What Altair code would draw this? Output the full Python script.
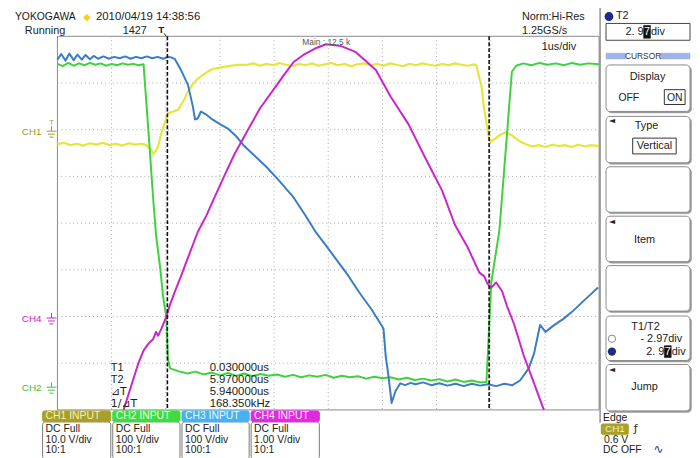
import altair as alt
import pandas as pd

# ---------------- data (time in us, level in screen divisions) ----------------
CURSOR_T = [0.03, 5.97]
GRID_T = [-1, 0, 1, 2, 3, 4, 5, 6, 7]
GRID_D = [-3, -2, -1, 0, 1, 2, 3]

YELLOW_T = [-2.00, -1.88, -1.76, -1.64, -1.52, -1.40, -1.28, -1.16, -1.04, -0.92, -0.80, -0.68, -0.56,
            -0.44, -0.36, -0.28, -0.23, -0.18, -0.14, -0.08, -0.01, 0.04, 0.14, 0.23, 0.32, 0.41, 0.50,
            0.59, 0.72, 0.86, 1.05, 1.32, 1.50, 1.62, 1.74, 1.86, 1.98, 2.10, 2.22, 2.34, 2.46, 2.58,
            2.70, 2.82, 2.94, 3.06, 3.18, 3.30, 3.42, 3.54, 3.66, 3.78, 3.90, 4.02, 4.14, 4.26, 4.38,
            4.50, 4.62, 4.74, 4.86, 4.98, 5.10, 5.22, 5.34, 5.46, 5.58, 5.70, 5.74, 5.77, 5.83, 5.86,
            5.90, 5.96, 5.99, 6.07, 6.16, 6.28, 6.39, 6.52, 6.65, 6.77, 6.89, 7.01, 7.13, 7.25, 7.37,
            7.49, 7.61, 7.73, 7.85, 8.00]
YELLOW_D = [1.69, 1.72, 1.67, 1.70, 1.66, 1.71, 1.68, 1.72, 1.67, 1.70, 1.66, 1.71, 1.68,
            1.70, 1.67, 1.59, 1.48, 1.55, 1.65, 1.93, 2.18, 2.35, 2.39, 2.43, 2.60, 2.81, 2.98,
            3.09, 3.20, 3.30, 3.34, 3.39, 3.39, 3.42, 3.37, 3.41, 3.38, 3.43, 3.39, 3.36, 3.41, 3.38,
            3.42, 3.37, 3.40, 3.43, 3.38, 3.41, 3.36, 3.40, 3.42, 3.38, 3.41, 3.37, 3.42, 3.39, 3.36,
            3.41, 3.38, 3.42, 3.39, 3.37, 3.41, 3.38, 3.42, 3.39, 3.37, 3.40, 3.37, 3.20, 2.92, 2.60,
            2.29, 1.86, 1.74, 1.80, 1.88, 1.95, 1.88, 1.76, 1.69, 1.64, 1.67, 1.63, 1.68, 1.65, 1.67,
            1.63, 1.68, 1.64, 1.67, 1.65]

GREEN_T = [-2.00, -1.90, -1.80, -1.70, -1.60, -1.50, -1.40, -1.30, -1.20, -1.10, -1.00, -0.90, -0.80,
           -0.70, -0.60, -0.50, -0.41, -0.32, -0.23, -0.18, -0.10, -0.05, 0.01, 0.04, 0.08, 0.23, 0.40,
           0.55, 0.70, 0.85, 1.00, 1.15, 1.30, 1.45, 1.60, 1.75, 1.90, 2.05, 2.20, 2.35, 2.50, 2.65,
           2.80, 2.95, 3.10, 3.25, 3.40, 3.55, 3.70, 3.85, 4.00, 4.15, 4.30, 4.45, 4.60, 4.75, 4.90,
           5.05, 5.20, 5.35, 5.50, 5.65, 5.80, 5.92, 6.01, 6.16, 6.39, 6.47, 6.60, 6.75, 6.90, 7.05,
           7.20, 7.35, 7.50, 7.65, 7.80, 8.00]
GREEN_D = [3.41, 3.36, 3.43, 3.37, 3.42, 3.38, 3.43, 3.39, 3.42, 3.37, 3.41, 3.38, 3.42,
           3.39, 3.41, 3.38, 3.40, 1.97, 0.49, -0.25, -0.99, -1.57, -2.01, -2.90, -3.11, -3.17, -3.22,
           -3.18, -3.24, -3.20, -3.26, -3.21, -3.27, -3.22, -3.28, -3.23, -3.27, -3.24, -3.29, -3.25,
           -3.30, -3.26, -3.29, -3.25, -3.31, -3.27, -3.30, -3.28, -3.33, -3.29, -3.32, -3.30, -3.35,
           -3.31, -3.36, -3.33, -3.37, -3.34, -3.39, -3.35, -3.40, -3.37, -3.41, -3.40, -1.27, -0.15,
           3.24, 3.37, 3.42, 3.38, 3.43, 3.39, 3.42, 3.38, 3.43, 3.39, 3.42, 3.40]

BLUE_T = [-2.00, -1.93, -1.85, -1.78, -1.70, -1.63, -1.55, -1.48, -1.40, -1.33, -1.25, -1.15, -1.05,
          -0.95, -0.85, -0.75, -0.65, -0.55, -0.45, -0.35, -0.25, -0.15, -0.05, 0.05, 0.12, 0.17,
          0.28, 0.41, 0.50, 0.54, 0.59, 0.65, 0.74, 0.86, 1.00, 1.14, 1.30, 1.45, 1.66, 1.87, 2.10,
          2.36, 2.57, 2.78, 2.97, 3.15, 3.36, 3.57, 3.80, 4.00, 4.02, 4.06, 4.11, 4.17, 4.24, 4.33,
          4.42, 4.52, 4.61, 4.75, 4.90, 5.05, 5.20, 5.35, 5.50, 5.65, 5.80, 5.95, 6.10, 6.25, 6.40,
          6.54, 6.70, 6.80, 6.91, 7.01, 7.15, 7.34, 7.50, 7.71, 7.85, 7.98]
BLUE_D = [3.50, 3.62, 3.48, 3.63, 3.49, 3.61, 3.50, 3.60, 3.51, 3.58, 3.52, 3.57, 3.52,
          3.56, 3.53, 3.57, 3.52, 3.56, 3.53, 3.57, 3.53, 3.56, 3.52, 3.56, 3.54, 3.51,
          3.28, 2.96, 2.50, 2.22, 2.24, 2.39, 2.33, 2.22, 2.12, 2.03, 1.86, 1.65, 1.42, 1.19, 0.90,
          0.55, 0.18, -0.21, -0.50, -0.78, -1.11, -1.48, -1.85, -2.22, -2.26, -2.84, -3.26, -3.85,
          -3.60, -3.43, -3.47, -3.42, -3.45, -3.41, -3.47, -3.43, -3.48, -3.44, -3.49, -3.44, -3.48,
          -3.45, -3.49, -3.44, -3.47, -3.37, -3.11, -2.79, -2.18, -2.33, -2.20, -2.05, -1.90, -1.67,
          -1.52, -1.38]

MAGENTA_T = [-0.78, -0.65, -0.50, -0.41, -0.32, -0.23, -0.18, -0.14, -0.08, 0.01, 0.08, 0.17, 0.28,
             0.41, 0.59, 0.75, 0.90, 1.10, 1.27, 1.50, 1.74, 1.96, 2.18, 2.36, 2.54, 2.78, 2.96, 3.24,
             3.51, 3.75, 3.88, 4.15, 4.48, 4.79, 5.10, 5.34, 5.57, 5.79, 5.88, 5.94, 6.01, 6.10, 6.21,
             6.30, 6.43, 6.61, 6.80, 6.98]
MAGENTA_D = [-4.00, -3.53, -2.98, -2.73, -2.58, -2.48, -2.33, -2.41, -2.26, -2.01, -1.74, -1.46, -1.14,
             -0.74, -0.19, 0.16, 0.55, 1.06, 1.48, 1.96, 2.46, 2.81, 3.17, 3.45, 3.60, 3.75, 3.83, 3.79,
             3.66, 3.41, 3.28, 2.71, 2.12, 1.40, 0.70, -0.04, -0.51, -1.06, -1.14, -1.30, -1.38, -1.27,
             -1.46, -1.78, -2.16, -2.84, -3.43, -4.00]

CH_NAMES = ["CH1 INPUT", "CH2 INPUT", "CH3 INPUT", "CH4 INPUT"]
CH_LINE1 = ["DC Full", "DC Full", "DC Full", "DC Full"]
CH_LINE2 = ["10.0 V/div", "100 V/div", "100 V/div", "1.00 V/div"]
CH_LINE3 = ["10:1", "100:1", "100:1", "10:1"]
CH_COLORS = ["#a8a02a", "#3fdc3f", "#46b2f2", "#e02ae0"]
CH_TEXT_COLORS = ["#f4f0b8", "#eaffea", "#eaf6ff", "#ffeaff"]

MEAS_LABELS = ["T1", "T2", "⊿T", "1/⊿T"]
MEAS_VALUES = ["0.030000us", "5.970000us", "5.940000us", "168.350kHz"]

# ---------------- helpers ----------------
OFF = 8
XS = alt.Scale(domain=[-2, 8], range=[58 - OFF, 606 - OFF], nice=False, zero=False)
YS = alt.Scale(domain=[-4, 4], range=[412 - OFF, 34 - OFF], nice=False, zero=False)
ONE = pd.DataFrame({"a": [0]})
FONT = "Liberation Sans"
layers = []


def txt(s, x, y, size=11, color="#222", align="left", font=FONT, weight="normal"):
    layers.append(alt.Chart(ONE).mark_text(text=s, align=align, baseline="middle", fontSize=size,
                                           color=color, font=font, fontWeight=weight)
                  .encode(x=alt.value(x - OFF), y=alt.value(y - OFF)))


def rect(x0, x1, y0, y1, fill="#ffffff", stroke="#888888", sw=1, radius=0, fop=1):
    layers.append(alt.Chart(ONE).mark_rect(fill=fill, stroke=stroke, strokeWidth=sw, cornerRadius=radius,
                                           fillOpacity=fop)
                  .encode(x=alt.value(x0 - OFF), x2=alt.value(x1 - OFF),
                          y=alt.value(y0 - OFF), y2=alt.value(y1 - OFF)))


def seg(x0, x1, y0, y1, color="#888", sw=1, dash=None):
    kw = dict(color=color, strokeWidth=sw)
    if dash:
        kw["strokeDash"] = dash
    layers.append(alt.Chart(ONE).mark_rule(**kw)
                  .encode(x=alt.value(x0 - OFF), x2=alt.value(x1 - OFF),
                          y=alt.value(y0 - OFF), y2=alt.value(y1 - OFF)))


def dot(x, y, color, size=70, filled=True):
    layers.append(alt.Chart(ONE).mark_point(shape="circle", filled=filled, size=size, color=color,
                                            opacity=1, strokeWidth=1)
                  .encode(x=alt.value(x - OFF), y=alt.value(y - OFF)))


def ground(y, color):
    seg(52, 52, y - 6, y - 1, color)
    seg(47, 57, y - 1, y - 1, color)
    seg(48.5, 55.5, y + 2, y + 2, color)
    seg(50, 54, y + 5, y + 5, color)


def trace(t, d, color, sw=2.0):
    df = pd.DataFrame({"t": t, "d": d, "i": list(range(len(t)))})
    layers.append(alt.Chart(df).mark_line(color=color, strokeWidth=sw, strokeJoin="round")
                  .encode(x=alt.X("t:Q", scale=XS, axis=None),
                          y=alt.Y("d:Q", scale=YS, axis=None),
                          order="i:Q"))


# ---------------- plot area ----------------
rect(58, 606, 34, 412, fill="#ffffff", stroke="#8a8a8a", sw=1)
layers.append(alt.Chart(pd.DataFrame({"t": GRID_T})).mark_rule(color="#a8a8a8", strokeDash=[1, 3], strokeWidth=1)
              .encode(x=alt.X("t:Q", scale=XS, axis=None), y=alt.value(34 - OFF), y2=alt.value(412 - OFF)))
layers.append(alt.Chart(pd.DataFrame({"d": GRID_D})).mark_rule(color="#a8a8a8", strokeDash=[1, 3], strokeWidth=1)
              .encode(y=alt.Y("d:Q", scale=YS, axis=None), x=alt.value(58 - OFF), x2=alt.value(606 - OFF)))

trace(YELLOW_T, YELLOW_D, "#e6e63a", 2.2)
trace(GREEN_T, GREEN_D, "#3ed23e", 2.0)
trace(BLUE_T, BLUE_D, "#3a7cc8", 2.0)
trace(MAGENTA_T, MAGENTA_D, "#cc24cc", 2.0)

layers.append(alt.Chart(pd.DataFrame({"t": CURSOR_T})).mark_rule(color="#111111", strokeDash=[4, 2], strokeWidth=1.6)
              .encode(x=alt.X("t:Q", scale=XS, axis=None), y=alt.value(34 - OFF), y2=alt.value(412 - OFF)))

txt("Main : 12.5 k", 330, 40, size=8.5, color="#555555", align="center")
txt("1us/div", 548, 45, size=11)
for i, (lab, val) in enumerate(zip(MEAS_LABELS, MEAS_VALUES)):
    yy = 370 + i * 12
    txt(lab, 112, yy, size=11, font="DejaVu Sans" if "⊿" in lab else FONT)
    txt(val, 212, yy, size=11.5)

# ---------------- header ----------------
txt("YOKOGAWA", 15, 15, size=10.5, color="#1a1a1a")
txt("◆", 88, 15, size=10, color="#f2d21e", align="center", font="DejaVu Sans")
txt("2010/04/19 14:38:56", 97, 15, size=11.5)
txt("Running", 25, 29, size=11)
txt("1427", 124, 29, size=11)
txt("T", 163, 28, size=10, align="center", weight="bold")
seg(166, 168, 31, 34, "#222", 1)
txt("Norm:Hi-Res", 528, 15, size=11)
txt("1.25GS/s", 528, 29, size=11)

# left channel markers
txt("CH1", 22, 131, size=10, color="#a09a2a")
txt("T", 52, 122, size=7, color="#a09a2a", align="center")
ground(131, "#a09a2a")
txt("CH4", 22, 320, size=10, color="#d020d0")
ground(320, "#d020d0")
txt("CH2", 22, 390, size=10, color="#40c040")
ground(390, "#40c040")

# ---------------- right panel ----------------
seg(607, 607, 0, 425, "#777777", 1.2)
dot(616, 14, "#1e2a86", 80)
txt("T2", 623, 14, size=11)
rect(613, 698, 21, 38, fill="#ffffff", stroke="#444444", sw=1)
txt("2. 9", 651, 29.5, size=11, align="right")
rect(651, 658, 23, 36, fill="#111111", stroke="#111111", sw=0.5)
txt("7", 654.5, 29.5, size=11, color="#ffffff", align="center")
txt("div", 658.5, 29.5, size=11)

rect(613, 633, 51, 57, fill="#9db4e6", stroke="#9db4e6", sw=0.5)
rect(668, 698, 51, 57, fill="#9db4e6", stroke="#9db4e6", sw=0.5)
txt("CURSOR", 650.5, 54, size=8.5, color="#333333", align="center")

for (y0, y1) in [(63, 110), (115, 162), (166, 212), (216, 262), (266, 312), (317, 362), (366, 413)]:
    rect(614.5, 699.5, y0 + 1.5, y1 + 1.5, fill="#9a9a9a", stroke="#9a9a9a", sw=0.5, radius=4)
    rect(613, 698, y0, y1, fill="#ffffff", stroke="#8a8a8a", sw=1, radius=4)

txt("Display", 655, 75, size=11, align="center")
txt("OFF", 636, 96, size=10.5, align="center")
rect(672, 693, 88, 103, fill="#ffffff", stroke="#333333", sw=1)
txt("ON", 682.5, 96, size=10.5, align="center")

txt("◄", 619, 120, size=8, align="center", font="DejaVu Sans")
txt("Type", 654, 125, size=11, align="center")
rect(640, 684, 137, 153, fill="#ffffff", stroke="#333333", sw=1)
txt("Vertical", 662, 145, size=11, align="center")

txt("◄", 619, 222, size=8, align="center", font="DejaVu Sans")
txt("Item", 652, 240, size=11, align="center")

txt("T1/T2", 653, 328, size=11, align="center")
dot(619, 340, "#888888", 55, filled=False)
txt("- 2.97div", 690, 340, size=11, align="right")
dot(619, 353, "#1e2a86", 70)
txt("2. 9", 672, 353, size=11, align="right")
rect(672, 679, 347, 359, fill="#111111", stroke="#111111", sw=0.5)
txt("7", 675.5, 353, size=11, color="#ffffff", align="center")
txt("div", 679.5, 353, size=11)

txt("◄", 619, 372, size=8, align="center", font="DejaVu Sans")
txt("Jump", 652, 389, size=11, align="center")

# bottom right trigger info
txt("Edge", 610, 420, size=10.5)
rect(608, 636, 426, 437, fill="#a8a02a", stroke="#a8a02a", sw=0.5, radius=2)
txt("CH1", 622, 431.5, size=10, color="#f4f0b8", align="center")
txt("ƒ", 643, 431, size=11, align="center", font="DejaVu Sans")
txt("0.6 V", 611, 442, size=10.5)
txt("DC OFF", 610, 453, size=10.5)
txt("∿", 666, 452, size=12, color="#2a3a9a", align="center", font="DejaVu Sans")

# ---------------- bottom channel boxes ----------------
BOX_X0 = [43, 114, 184, 254]
BOX_X1 = [112, 182, 252, 323]
for i in range(4):
    x0, x1 = BOX_X0[i], BOX_X1[i]
    rect(x0, x1, 424, 462, fill="#ffffff", stroke="#777777", sw=1, radius=3)
    rect(x0, x1, 413, 424, fill=CH_COLORS[i], stroke=CH_COLORS[i], sw=1, radius=2)
    txt(CH_NAMES[i], x0 + 3, 418.5, size=10.5, color=CH_TEXT_COLORS[i])
    txt(CH_LINE1[i], x0 + 3, 431, size=10.5)
    txt(CH_LINE2[i], x0 + 3, 442, size=10.5)
    txt(CH_LINE3[i], x0 + 3, 453, size=10.5)

chart = alt.layer(*layers).properties(
    width=692, height=450, padding=0, background="#ffffff",
    autosize=alt.AutoSizeParams(type="none"),
).configure_view(stroke=None)

chart.save("out.html", embed_options={"renderer": "svg", "actions": False})
